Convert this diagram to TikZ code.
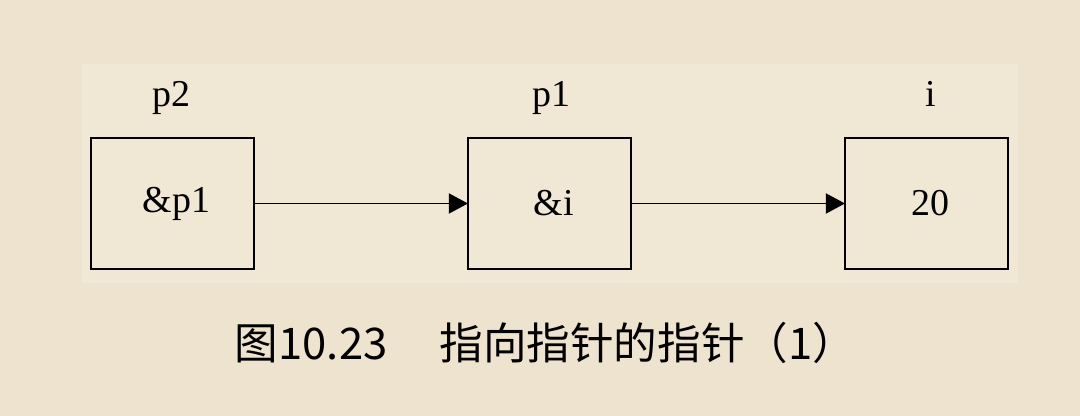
\documentclass[tikz,border=0pt]{standalone}
\usepackage{fontspec}
\setmainfont{Liberation Serif}
\newfontfamily\cjk{Noto Sans CJK SC}
\usetikzlibrary{arrows.meta,positioning}
\definecolor{pagebg}{RGB}{238,227,206}
\definecolor{figbg}{RGB}{240,231,213}

\begin{document}
\begin{tikzpicture}[node distance=5.35cm]
      \tikzstyle{cellbox}=[rectangle,draw,line width=1.4pt,outer sep=0pt,minimum width=4.075cm,minimum height=3.275cm,inner sep=0pt,font=\fontsize{27}{31}\selectfont,execute at begin node=\hspace*{2mm}]
      \tikzstyle{varname}=[anchor=base,font=\fontsize{27}{31}\selectfont]
      \tikzstyle{ptr}=[line width=1.4pt,-{Triangle[length=4.8mm,width=5mm]}]
      % page and figure backgrounds
      \fill[pagebg] (0,0) rectangle (27,10.4);
      \fill[figbg] (2.05,3.325) rectangle (25.45,8.8);
      \node[cellbox] (a) at (4.3125,5.3125) {\&p1};
      \node[cellbox,right=of a] (b) {\&i};
      \node[cellbox,right=of b] (c) {20};
      % variable names over the cells
      \node[varname] (la) at ([xshift=-0.03cm,yshift=0.78cm]a.north) {p2};
      \node[varname] (lb) at ([xshift=0.05cm,yshift=0.78cm]b.north) {p1};
      \node[varname] (lc) at ([xshift=0.1cm,yshift=0.78cm]c.north) {i};
      % pointer chain
      \draw[ptr] (a) -- (b);
      \draw[ptr] (b) -- (c);
      \node[anchor=base west,font=\cjk\fontsize{31}{36}\selectfont] (cap) at (5.75,1.4) {图10.23\hspace{1.2em}指向指针的指针（1）};
    \end{tikzpicture}
\end{document}
